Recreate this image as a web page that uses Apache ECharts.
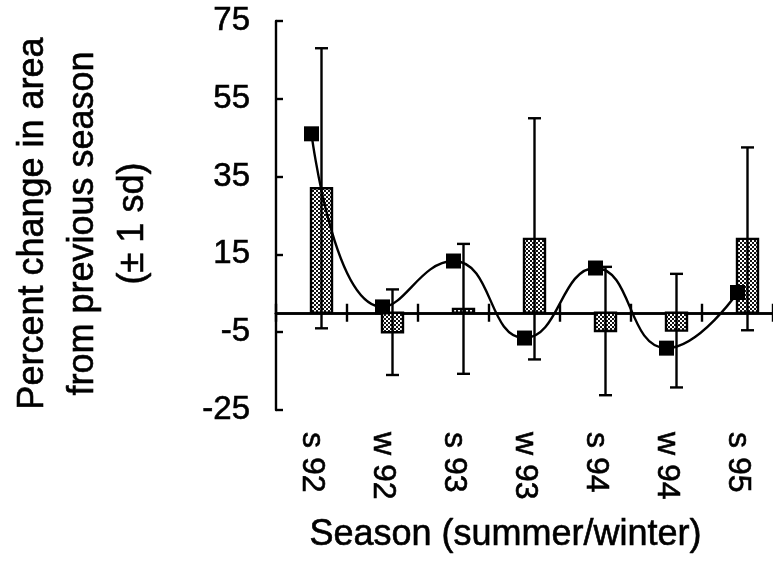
<!DOCTYPE html>
<html>
<head>
<meta charset="utf-8">
<script src="https://cdn.jsdelivr.net/npm/echarts@6/dist/echarts.min.js"></script>
<style>
html,body{margin:0;padding:0;background:#fff;}
#chart{width:773px;height:564px;}
</style>
</head>
<body>
<div id="chart"></div>
<script>
// ---- data ----
const categories = ['s 92', 'w 92', 's 93', 'w 93', 's 94', 'w 94', 's 95'];
const barMeans = [32, -5, 1, 19, -4.7, -4.6, 19];
const barSd = [36, 11, 16.7, 31, 16.5, 14.6, 23.5];
const lineValues = [46, 1.5, 13.3, -6.5, 11.5, -9.1, 5.2];
const yTicks = { min: -25, max: 75, interval: 20 };

// stipple pattern for bars
const pat = document.createElement('canvas');
pat.width = 4; pat.height = 4;
const pc = pat.getContext('2d');
pc.fillStyle = '#111111'; pc.fillRect(0, 0, 4, 4);
pc.fillStyle = '#ffffff';
pc.fillRect(0, 0, 2, 2);
pc.fillRect(2, 2, 2, 2);
const patternFill = { image: pat, repeat: 'repeat' };

const FONT = 'Liberation Sans, Arial, sans-serif';
const TXT = { color: '#000', fontFamily: FONT, textBorderColor: '#000', textBorderWidth: 0.6 };
const BAR_OFFSET = 10, BAR_W = 21, CAP_W = 13;

const chart = echarts.init(document.getElementById('chart'), null, { renderer: 'canvas' });

const option = {
  backgroundColor: '#ffffff',
  animation: false,
  grid: { left: 266, right: -2, top: 21, bottom: 154, containLabel: false },
  xAxis: [
    {
      type: 'category', data: categories, position: 'bottom',
      axisLine: { onZero: true, onZeroAxisIndex: 0, lineStyle: { color: '#000', width: 2.6 } },
      axisTick: { show: true, length: 9, inside: false, lineStyle: { color: '#000', width: 2.4 } },
      axisLabel: { show: false }, splitLine: { show: false }
    },
    {
      type: 'category', data: categories, position: 'top',
      axisLine: { show: true, onZero: true, onZeroAxisIndex: 0, lineStyle: { color: '#000', width: 2.6 } },
      axisTick: { show: true, length: 9, inside: false, lineStyle: { color: '#000', width: 2.4 } },
      axisLabel: { show: false }, splitLine: { show: false }
    },
    {
      type: 'category', data: categories, position: 'bottom',
      axisLine: { show: false, onZero: false },
      axisTick: { show: false },
      axisLabel: Object.assign({ show: true, rotate: -90, margin: 22, fontSize: 32 }, TXT),
      name: 'Season (summer/winter)', nameLocation: 'middle', nameGap: 107,
      nameTextStyle: Object.assign({ fontSize: 36, padding: [0, 38, 0, 0] }, TXT),
      splitLine: { show: false }
    }
  ],
  yAxis: {
    type: 'value', min: yTicks.min, max: yTicks.max, interval: yTicks.interval,
    axisLine: { show: true, lineStyle: { color: '#000', width: 2.4 } },
    axisTick: { show: true, inside: true, length: 7, lineStyle: { color: '#000', width: 2.4 } },
    axisLabel: Object.assign({ fontSize: 33, margin: 26 }, TXT),
    splitLine: { show: false },
    name: 'Percent change in area\nfrom previous season\n(± 1 sd)',
    nameLocation: 'middle', nameGap: 118, nameRotate: 90,
    nameTextStyle: Object.assign({ fontSize: 36, lineHeight: 50, align: 'center', padding: [0, 16, 0, 0] }, TXT)
  },
  series: [
    {
      type: 'custom', name: 'bars', xAxisIndex: 0, z: 2,
      data: barMeans.map((v, i) => [i, v]),
      renderItem: function (params, api) {
        const i = api.value(0), v = api.value(1);
        const p0 = api.coord([i, 0]);
        const p1 = api.coord([i, v]);
        const cx = p0[0] + BAR_OFFSET;
        const top = Math.min(p0[1], p1[1]);
        const h = Math.abs(p1[1] - p0[1]);
        return {
          type: 'rect',
          shape: { x: cx - BAR_W / 2, y: top, width: BAR_W, height: h },
          style: { fill: patternFill, stroke: '#000', lineWidth: 2.4 }
        };
      }
    },
    {
      type: 'custom', name: 'sd', xAxisIndex: 0, z: 3,
      data: barMeans.map((v, i) => [i, v - barSd[i], v + barSd[i]]),
      renderItem: function (params, api) {
        const i = api.value(0);
        const lo = api.coord([i, api.value(1)]);
        const hi = api.coord([i, api.value(2)]);
        const cx = lo[0] + BAR_OFFSET;
        const st = { stroke: '#000', lineWidth: 2.4 };
        return {
          type: 'group',
          children: [
            { type: 'line', shape: { x1: cx, y1: lo[1], x2: cx, y2: hi[1] }, style: st },
            { type: 'line', shape: { x1: cx - CAP_W / 2, y1: lo[1], x2: cx + CAP_W / 2, y2: lo[1] }, style: st },
            { type: 'line', shape: { x1: cx - CAP_W / 2, y1: hi[1], x2: cx + CAP_W / 2, y2: hi[1] }, style: st }
          ]
        };
      }
    },
    {
      type: 'line', name: 'change', xAxisIndex: 0, z: 4,
      data: lineValues, smooth: 0.5,
      symbol: 'rect', symbolSize: 15,
      itemStyle: { color: '#000' },
      lineStyle: { color: '#000', width: 2.4 }
    }
  ]
};
chart.setOption(option);
</script>
</body>
</html>
